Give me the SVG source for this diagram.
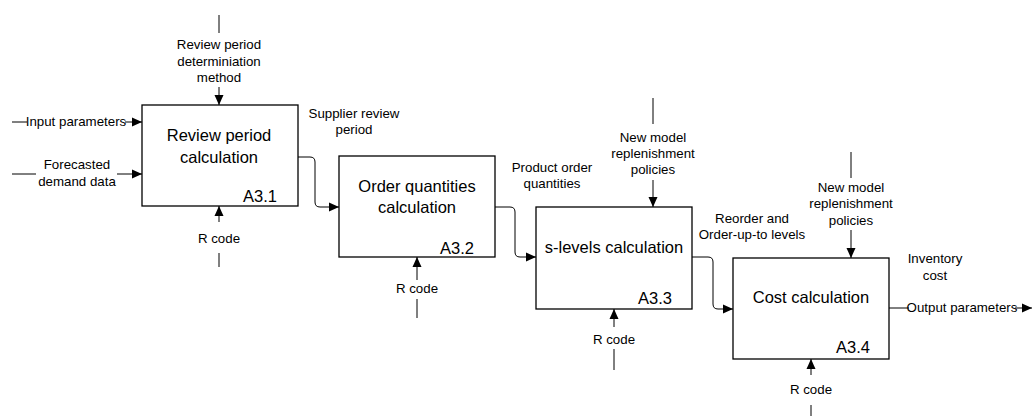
<svg xmlns="http://www.w3.org/2000/svg" width="1034" height="416" viewBox="0 0 1034 416">
<defs>
<marker id="ah" markerUnits="userSpaceOnUse" markerWidth="10" markerHeight="10" refX="10" refY="5" orient="auto">
<path d="M0,0.5 L10,5 L0,9.5 z" fill="#000"/>
</marker>
<style>
.box{fill:#fff;stroke:#000;stroke-width:1.3}
.t{font-family:"Liberation Sans",Arial,sans-serif;font-size:16.5px;fill:#000;text-anchor:middle}
.id{font-family:"Liberation Sans",Arial,sans-serif;font-size:16.5px;fill:#000;text-anchor:end}
.s{font-family:"Liberation Sans",Arial,sans-serif;font-size:13.3px;fill:#000;text-anchor:middle}
.c{fill:none;stroke:#000;stroke-width:1}
.a{fill:none;stroke:#000;stroke-width:1;marker-end:url(#ah)}
</style>
</defs>
<rect width="1034" height="416" fill="#fff"/>

<g id="connectors">
<line class="c" x1="219" y1="15" x2="219" y2="33"/>
<line class="a" x1="219" y1="87" x2="219" y2="105"/>
<line class="c" x1="12" y1="122" x2="27" y2="122"/>
<line class="a" x1="125" y1="122" x2="142" y2="122"/>
<line class="c" x1="12" y1="174" x2="36" y2="174"/>
<line class="a" x1="117" y1="174" x2="142" y2="174"/>
<line class="a" x1="219" y1="222" x2="219" y2="206"/>
<line class="c" x1="219" y1="253" x2="219" y2="267"/>
<path class="a" d="M298,157 H310 Q315,157 315,162 V202 Q315,207 320,207 H339"/>
<line class="a" x1="417" y1="280" x2="417" y2="257"/>
<line class="c" x1="417" y1="299" x2="417" y2="318"/>
<path class="a" d="M495,207 H510 Q515,207 515,212 V252 Q515,257 520,257 H536"/>
<line class="c" x1="653" y1="98" x2="653" y2="124"/>
<line class="a" x1="653" y1="180" x2="653" y2="207"/>
<line class="a" x1="614" y1="327" x2="614" y2="309"/>
<line class="c" x1="614" y1="349" x2="614" y2="370"/>
<path class="a" d="M692,257 H708 Q713,257 713,262 V304 Q713,309 718,309 H733"/>
<line class="c" x1="851" y1="152" x2="851" y2="178"/>
<line class="a" x1="851" y1="230" x2="851" y2="258"/>
<line class="c" x1="889" y1="308" x2="909" y2="308"/>
<line class="a" x1="1015" y1="308" x2="1032" y2="308"/>
<line class="a" x1="811" y1="375" x2="811" y2="359"/>
<line class="c" x1="811" y1="405" x2="811" y2="416"/>
</g>

<g id="labels">
<text class="s" x="219" y="49">Review period</text>
<text class="s" x="219" y="66">determiniation</text>
<text class="s" x="219" y="82">method</text>
<text class="s" x="76" y="126">Input parameters</text>
<text class="s" x="77" y="169">Forecasted</text>
<text class="s" x="77" y="186">demand data</text>
<text class="s" x="219" y="243">R code</text>
<text class="s" x="354" y="118">Supplier review</text>
<text class="s" x="354" y="134">period</text>
<text class="s" x="417" y="293">R code</text>
<text class="s" x="552" y="172">Product order</text>
<text class="s" x="552" y="188">quantities</text>
<text class="s" x="653" y="142">New model</text>
<text class="s" x="653" y="158">replenishment</text>
<text class="s" x="653" y="174">policies</text>
<text class="s" x="614" y="344">R code</text>
<text class="s" x="752" y="223">Reorder and</text>
<text class="s" x="752" y="239">Order-up-to levels</text>
<text class="s" x="851" y="192">New model</text>
<text class="s" x="851" y="208">replenishment</text>
<text class="s" x="851" y="225">policies</text>
<text class="s" x="935" y="263">Inventory</text>
<text class="s" x="935" y="280">cost</text>
<text class="s" x="962" y="312">Output parameters</text>
<text class="s" x="811" y="394">R code</text>
</g>

<g id="A3.1">
<rect class="box" x="142" y="105" width="156" height="101"/>
<text class="t" x="219" y="141">Review period</text>
<text class="t" x="219" y="163">calculation</text>
<text class="id" x="277" y="202">A3.1</text>
</g>

<g id="A3.2">
<rect class="box" x="339" y="156" width="156" height="101"/>
<text class="t" x="417" y="192">Order quantities</text>
<text class="t" x="417" y="213">calculation</text>
<text class="id" x="474" y="254">A3.2</text>
</g>

<g id="A3.3">
<rect class="box" x="536" y="207" width="156" height="102"/>
<text class="t" x="614" y="253">s-levels calculation</text>
<text class="id" x="672" y="304">A3.3</text>
</g>

<g id="A3.4">
<rect class="box" x="733" y="258" width="156" height="101"/>
<text class="t" x="811" y="303">Cost calculation</text>
<text class="id" x="870" y="353">A3.4</text>
</g>
</svg>
